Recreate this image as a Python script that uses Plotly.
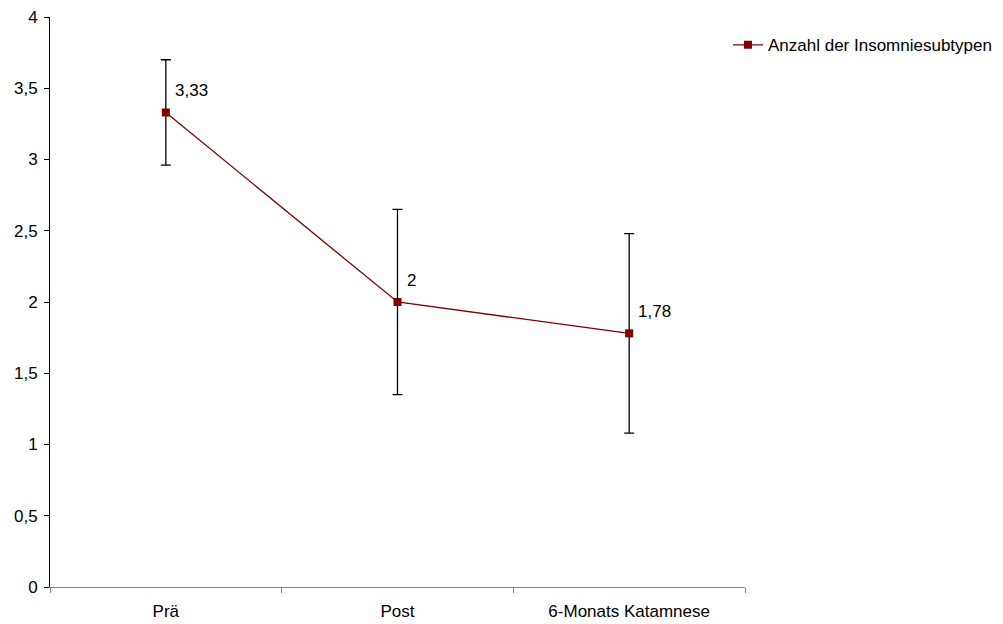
import plotly.graph_objects as go

categories = ["Prä", "Post", "6-Monats Katamnese"]
means = [3.33, 2.0, 1.78]
errors = [0.37, 0.65, 0.70]
series_name = "Anzahl der Insomniesubtypen"
y_ticks = [0, 0.5, 1, 1.5, 2, 2.5, 3, 3.5, 4]

FONT = "Liberation Sans, Arial, sans-serif"
FS = 17

fig = go.Figure()
fig.add_trace(go.Scatter(
    x=categories, y=means, name=series_name, mode="lines+markers",
    line=dict(color="#800000", width=1.3),
    marker=dict(symbol="square", size=8, color="#800000"),
    error_y=dict(type="data", array=errors, visible=True, color="black",
                 thickness=1.3, width=5),
))

for c, v in zip(categories, means):
    txt = f"{v:g}".replace(".", ",")
    fig.add_annotation(x=c, y=v, text=txt, showarrow=False,
                       xanchor="left", yanchor="middle", xshift=7, yshift=22,
                       font=dict(family=FONT, size=FS, color="black"))

fig.update_layout(
    width=1003, height=624,
    margin=dict(l=50, r=258, t=17, b=37, autoexpand=False),
    paper_bgcolor="white", plot_bgcolor="white",
    separators=",.",
    font=dict(family=FONT, size=FS, color="black"),
    showlegend=True,
    legend=dict(x=0.9755, y=0.982, xanchor="left", yanchor="top",
                font=dict(family=FONT, size=FS, color="black"),
                bgcolor="rgba(0,0,0,0)"),
    xaxis=dict(type="category", showline=True, linecolor="#808080", linewidth=1,
               ticks="outside", tickson="boundaries", ticklen=5, tickcolor="#808080",
               ticklabelstandoff=9,
               showgrid=False, zeroline=False, range=[-0.5, 2.5]),
    yaxis=dict(range=[0, 4], tickvals=y_ticks, showline=True, linecolor="black",
               linewidth=1, ticks="outside", ticklen=5, tickcolor="black",
               ticklabelstandoff=3,
               showgrid=False, zeroline=False),
)

fig.write_html("out.html", config={"displayModeBar": False},
               post_script="document.body.style.margin='0';document.body.style.padding='0';")
